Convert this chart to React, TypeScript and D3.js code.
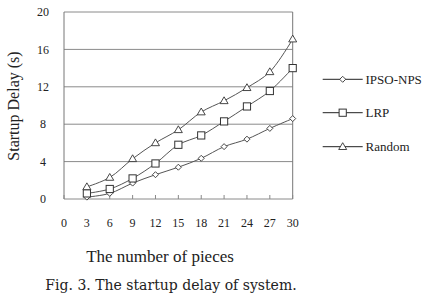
import React from "react";
import * as d3 from "d3";

const xs = [3, 6, 9, 12, 15, 18, 21, 24, 27, 30];
const ipso = [0.2, 0.6, 1.7, 2.6, 3.4, 4.35, 5.6, 6.4, 7.55, 8.6];
const lrp = [0.6, 1.07, 2.2, 3.8, 5.8, 6.8, 8.3, 9.9, 11.55, 14.0];
const random = [1.3, 2.3, 4.3, 6.0, 7.4, 9.3, 10.5, 11.9, 13.6, 17.1];
const xTicks = [0, 3, 6, 9, 12, 15, 18, 21, 24, 27, 30];
const yTicks = [0, 4, 8, 12, 16, 20];
const seriesNames = ["IPSO-NPS", "LRP", "Random"];

const W = 429, H = 294;
const x = d3.scaleLinear().domain([0, 30]).range([64, 292.7]);
const y = d3.scaleLinear().domain([0, 20]).range([199, 12]);

const serif = "'Liberation Serif', 'Times New Roman', serif";
const capFont = "'DejaVu Serif', serif";

function Marker({ kind, cx, cy }: { kind: number; cx: number; cy: number }) {
  const stroke = "#333";
  if (kind === 0) {
    const r = 3;
    return <path d={`M${cx},${cy - r}L${cx + r},${cy}L${cx},${cy + r}L${cx - r},${cy}Z`} fill="#fff" stroke={stroke} strokeWidth={0.9} />;
  }
  if (kind === 1) {
    const s = 3.6;
    return <rect x={cx - s} y={cy - s} width={2 * s} height={2 * s} fill="#fff" stroke={stroke} strokeWidth={1} />;
  }
  const r = 4;
  return <path d={`M${cx},${cy - r}L${cx + r},${cy + r * 0.7}L${cx - r},${cy + r * 0.7}Z`} fill="#fff" stroke={stroke} strokeWidth={0.9} />;
}

export default function App() {
  const data = [ipso, lrp, random];
  const line = d3.line<number>().x((_, i) => x(xs[i])).y((d) => y(d)).curve(d3.curveCatmullRom.alpha(0.5));
  const legendY = [79.3, 112.7, 146.7];
  const ts = { fontFamily: serif };
  return (
    <svg width={W} height={H} style={{ position: "absolute", left: 0, top: 0, background: "#fff" }}>
      <rect x={0} y={0} width={W} height={H} fill="#fff" />
      {yTicks.map((t) => (
        <line key={"g" + t} x1={x(0)} x2={x(30)} y1={y(t)} y2={y(t)} stroke="#8a8a8a" strokeWidth={1} />
      ))}
      <line x1={x(0)} x2={x(0)} y1={y(0)} y2={y(20)} stroke="#777" strokeWidth={1} />
      <line x1={x(30)} x2={x(30)} y1={y(0)} y2={y(20)} stroke="#777" strokeWidth={1} />
      {xTicks.map((t) => (
        <line key={"xt" + t} x1={x(t)} x2={x(t)} y1={y(0) - 4} y2={y(0)} stroke="#888" strokeWidth={1} />
      ))}
      {yTicks.map((t) => (
        <text key={"yl" + t} x={43} y={y(t)} dy="0.35em" textAnchor="middle" style={{ ...ts, fontSize: 12 }} fill="#222">{t}</text>
      ))}
      {xTicks.map((t) => (
        <text key={"xl" + t} x={x(t)} y={223} dy="0.35em" textAnchor="middle" style={{ ...ts, fontSize: 12 }} fill="#222">{t}</text>
      ))}
      {data.map((d, k) => (
        <path key={"l" + k} d={line(d) || ""} fill="none" stroke="#555" strokeWidth={1} />
      ))}
      {data.map((d, k) => d.map((v, i) => <Marker key={k + "-" + i} kind={k} cx={x(xs[i])} cy={y(v)} />))}
      {seriesNames.map((n, k) => (
        <g key={"lg" + k}>
          <line x1={322.7} x2={362.7} y1={legendY[k]} y2={legendY[k]} stroke="#222" strokeWidth={1} />
          <Marker kind={k} cx={342.7} cy={legendY[k]} />
          <text x={365.5} y={legendY[k]} dy="0.35em" style={{ ...ts, fontSize: 13 }} fill="#222">{n}</text>
        </g>
      ))}
      <text transform="translate(13,106) rotate(-90)" textAnchor="middle" dy="0.35em" style={{ ...ts, fontSize: 16 }} fill="#222">Startup Delay (s)</text>
      <text x={160} y={256} dy="0.35em" textAnchor="middle" style={{ ...ts, fontSize: 17 }} fill="#222">The number of pieces</text>
      <text x={171} y={290} textAnchor="middle" style={{ fontFamily: capFont, fontSize: 14 }} fill="#222">Fig. 3. The startup delay of system.</text>
    </svg>
  );
}
